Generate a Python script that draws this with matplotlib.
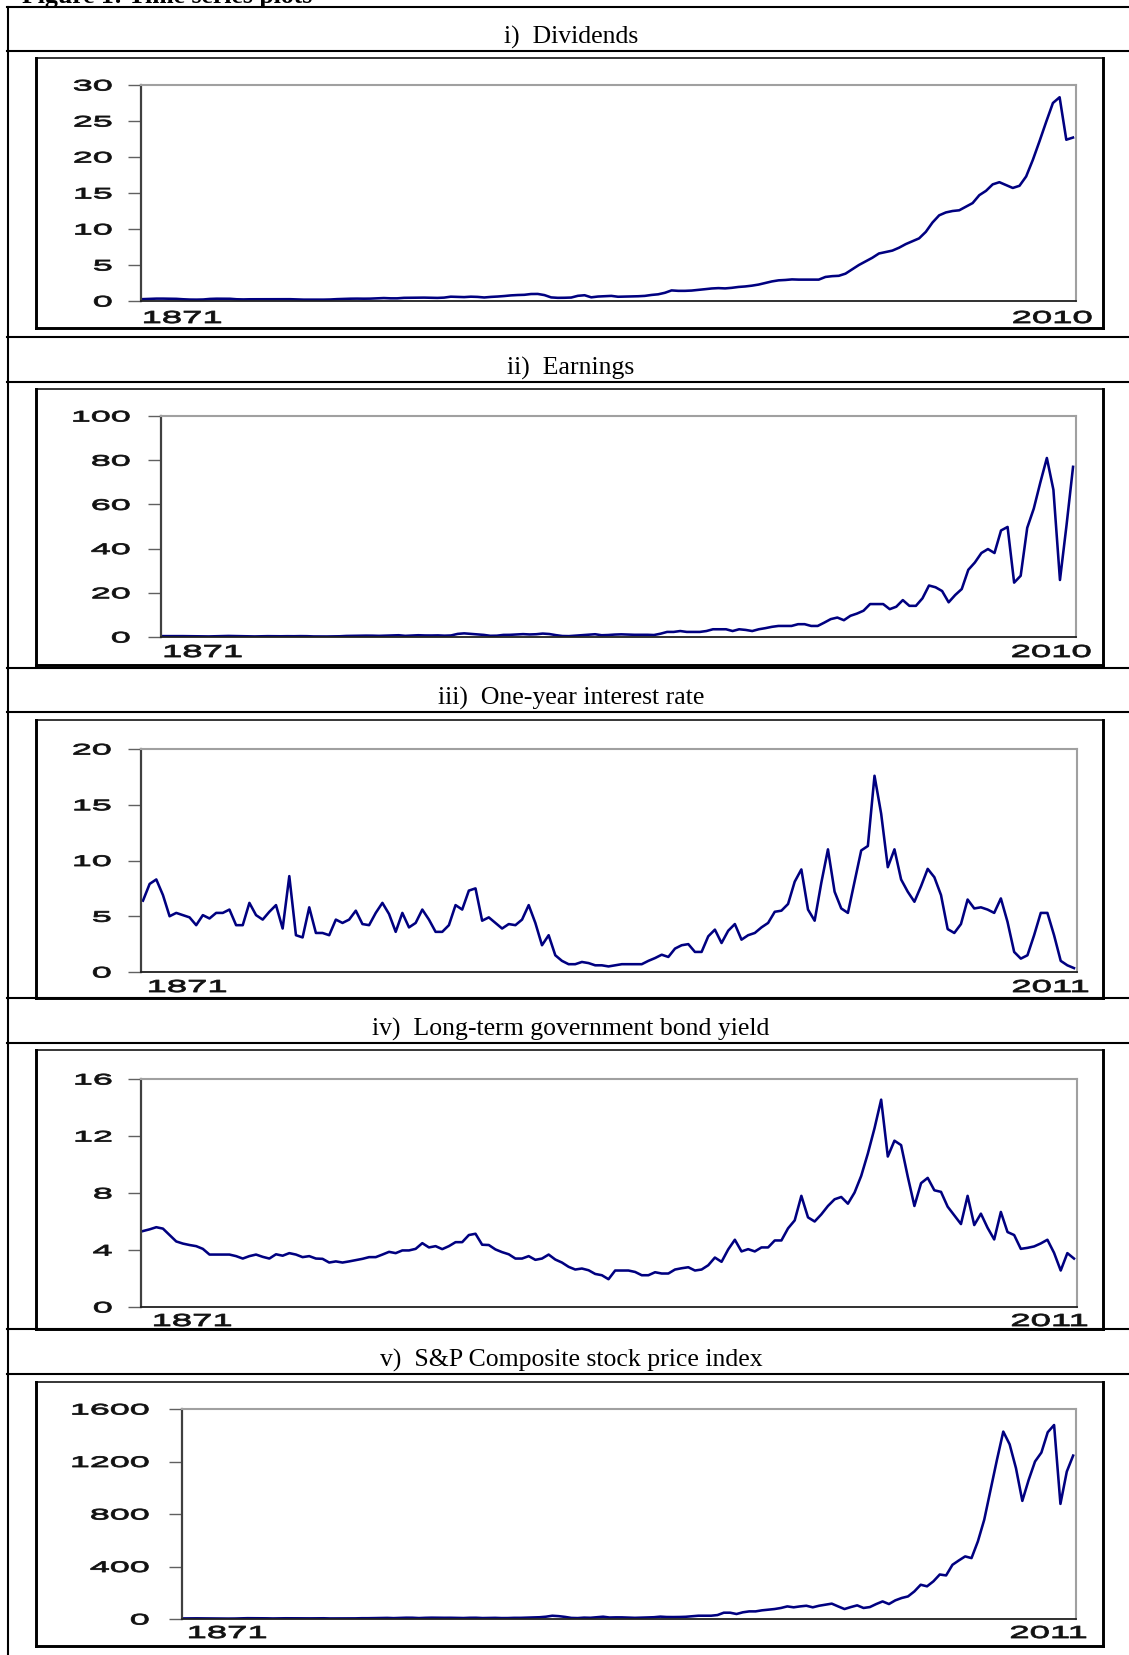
import numpy as np
import matplotlib
matplotlib.use("Agg")
import matplotlib.pyplot as plt
from matplotlib.lines import Line2D
from matplotlib.patheffects import AbstractPathEffect
from matplotlib.transforms import Affine2D

# ---- data (annual) ----
years_de = np.arange(1871, 2011)   # dividends, earnings: 1871-2010
years_rp = np.arange(1871, 2012)   # rates, prices: 1871-2011

dividends = [
    0.26, 0.30, 0.33, 0.33, 0.31, 0.30, 0.24, 0.20, 0.19, 0.21,
    0.29, 0.32, 0.32, 0.31, 0.24, 0.22, 0.24, 0.24, 0.23, 0.24,
    0.23, 0.24, 0.25, 0.22, 0.19, 0.19, 0.18, 0.19, 0.21, 0.26,
    0.29, 0.32, 0.33, 0.32, 0.33, 0.37, 0.41, 0.37, 0.37, 0.44,
    0.45, 0.45, 0.47, 0.45, 0.43, 0.47, 0.60, 0.57, 0.54, 0.60,
    0.57, 0.49, 0.57, 0.62, 0.69, 0.78, 0.83, 0.86, 0.97, 0.98,
    0.82, 0.50, 0.44, 0.45, 0.48, 0.72, 0.80, 0.51, 0.62, 0.67,
    0.71, 0.59, 0.61, 0.64, 0.66, 0.71, 0.84, 0.93, 1.14, 1.47,
    1.41, 1.41, 1.45, 1.54, 1.64, 1.74, 1.79, 1.75, 1.83, 1.95,
    2.02, 2.13, 2.28, 2.50, 2.72, 2.87, 2.92, 3.00,
    2.97, 2.97, 2.97, 2.97, 3.34, 3.45, 3.50, 3.80, 4.40, 5.00,
    5.50, 6.00, 6.60, 6.80, 7.00, 7.40, 7.90, 8.30, 8.70, 9.60,
    10.9, 11.9, 12.3, 12.5, 12.6, 13.1, 13.6, 14.7, 15.3, 16.2,
    16.5, 16.1, 15.7, 16.0, 17.3, 19.6, 22.2, 24.9, 27.5, 28.3,
    22.4, 22.7,
]

earnings = [
    0.40, 0.41, 0.42, 0.40, 0.36, 0.30, 0.25, 0.26, 0.33, 0.45,
    0.48, 0.42, 0.38, 0.34, 0.26, 0.32, 0.38, 0.35, 0.33, 0.37,
    0.35, 0.40, 0.37, 0.26, 0.24, 0.24, 0.28, 0.33, 0.48, 0.54,
    0.58, 0.62, 0.60, 0.52, 0.62, 0.75, 0.80, 0.52, 0.68, 0.80,
    0.70, 0.68, 0.73, 0.60, 0.70, 1.40, 1.65, 1.40, 1.10, 0.95,
    0.55, 0.60, 0.95, 0.98, 1.15, 1.30, 1.15, 1.25, 1.55, 1.35,
    0.85, 0.45, 0.40, 0.60, 0.75, 1.00, 1.25, 0.80,
    0.90, 1.10, 1.20, 1.10, 1.00, 1.00, 1.00, 0.90,
    1.5, 2.3, 2.3, 2.7, 2.3, 2.3, 2.3, 2.7, 3.5, 3.5,
    3.5, 2.7, 3.5, 3.2, 2.7, 3.5, 4.0, 4.6, 5.0, 5.0,
    5.0, 5.8, 5.8, 5.0, 5.0, 6.5, 8.1, 8.8, 7.6, 9.6,
    10.6, 11.9, 14.9, 14.9, 14.9, 12.6, 13.7, 16.7, 14.1, 14.1,
    17.5, 23.3, 22.5, 20.8, 15.7, 19.0, 21.7, 30.4, 33.7, 38.0,
    39.8, 38.0, 48.2, 49.8, 24.6, 27.7, 49.4, 58.1, 69.9, 81.0,
    66.6, 25.8, 50.5, 77.0,
]

one_year_rate = [
    6.4, 7.9, 8.3, 6.9, 5.0, 5.3, 5.1, 4.9, 4.2, 5.1,
    4.8, 5.3, 5.3, 5.6, 4.2, 4.2, 6.2, 5.1, 4.7, 5.4,
    6.0, 3.9, 8.6, 3.3, 3.1, 5.8, 3.5, 3.5, 3.3, 4.7,
    4.4, 4.7, 5.5, 4.3, 4.2, 5.3, 6.2, 5.2, 3.6, 5.3,
    4.0, 4.4, 5.6, 4.7, 3.6, 3.6, 4.2, 6.0, 5.6, 7.3,
    7.5, 4.6, 4.9, 4.4, 3.9, 4.3, 4.2, 4.7, 6.0, 4.4,
    2.4, 3.3, 1.5, 1.0, 0.7, 0.7, 0.9, 0.8, 0.6, 0.6,
    0.5, 0.6, 0.7, 0.7, 0.7, 0.7, 1.0, 1.25, 1.55, 1.35,
    2.1, 2.4, 2.5, 1.8, 1.8, 3.2, 3.8, 2.6, 3.7, 4.3,
    2.9, 3.3, 3.5, 4.0, 4.4, 5.4, 5.5, 6.1, 8.1, 9.2,
    5.6, 4.6, 8.0, 11.0, 7.2, 5.7, 5.3, 8.1, 10.9, 11.3,
    17.6, 14.2, 9.4, 11.0, 8.3, 7.2, 6.3, 7.7, 9.25, 8.5,
    6.9, 3.85, 3.5, 4.3, 6.5, 5.7, 5.8, 5.6, 5.3, 6.6,
    4.5, 1.8, 1.2, 1.5, 3.3, 5.3, 5.3, 3.3, 1.0, 0.6,
    0.35,
]

bond_yield = [
    5.33, 5.45, 5.60, 5.50, 5.05, 4.60, 4.45, 4.35, 4.27, 4.08,
    3.68, 3.68, 3.68, 3.68, 3.57, 3.40, 3.57, 3.68, 3.52, 3.40,
    3.70, 3.60, 3.78, 3.68, 3.50, 3.57, 3.40, 3.38, 3.12, 3.20,
    3.12, 3.20, 3.29, 3.38, 3.50, 3.50, 3.68, 3.87, 3.78, 3.97,
    3.97, 4.08, 4.48, 4.18, 4.27, 4.06, 4.27, 4.55, 4.55, 5.05,
    5.14, 4.37, 4.35, 4.04, 3.85, 3.70, 3.40, 3.40, 3.57, 3.31,
    3.40, 3.68, 3.33, 3.12, 2.82, 2.63, 2.70, 2.58, 2.32, 2.23,
    1.95, 2.56, 2.56, 2.56, 2.46, 2.23, 2.23, 2.44, 2.35, 2.35,
    2.63, 2.72, 2.79, 2.56, 2.63, 2.93, 3.47, 3.17, 4.04, 4.72,
    3.90, 4.06, 3.90, 4.18, 4.18, 4.67, 4.67, 5.52, 6.08, 7.80,
    6.29, 6.00, 6.50, 7.09, 7.56, 7.72, 7.25, 8.03, 9.20, 10.77,
    12.54, 14.55, 10.56, 11.67, 11.36, 9.15, 7.09, 8.69, 9.06, 8.19,
    8.08, 7.04, 6.43, 5.82, 7.80, 5.75, 6.55, 5.56, 4.74, 6.67,
    5.26, 5.05, 4.08, 4.15, 4.25, 4.46, 4.72, 3.80, 2.56, 3.78,
    3.40,
]

sp_price = [
    4.44, 5.07, 5.11, 4.66, 4.54, 4.46, 3.55, 3.25, 3.58, 5.11,
    6.19, 5.92, 5.81, 5.18, 4.24, 5.20, 5.58, 5.31, 5.24, 5.38,
    4.84, 5.51, 5.61, 4.32, 4.25, 4.27, 4.22, 4.88, 6.08, 6.10,
    7.07, 8.12, 8.46, 6.68, 8.43, 9.87, 9.56, 7.09, 9.06, 10.08,
    9.27, 9.12, 9.30, 8.37, 7.48, 9.33, 9.57, 7.21, 7.85, 8.83,
    7.11, 7.30, 8.90, 8.83, 10.58, 12.65, 13.40, 17.53, 24.86, 21.71,
    15.98, 8.30, 7.09, 10.54, 9.26, 13.76, 17.59, 11.31, 12.50, 12.30,
    10.55, 8.93, 10.09, 11.85, 13.49, 18.02, 15.21, 14.83, 15.36, 16.88,
    21.21,
    25, 25, 25, 30, 48, 48, 38, 51, 58,
    58, 66, 71, 76, 84, 96, 89, 96, 101, 89,
    101, 109, 117, 96, 76, 91, 104, 84, 91, 114,
    134, 114, 142, 160, 172, 210, 261, 249, 287, 339,
    332, 413, 446, 477, 464, 591, 756, 984, 1212, 1428,
    1331, 1149, 900, 1060, 1200, 1268, 1423, 1478, 877, 1123,
    1245,
]

titles = ["i)  Dividends", "ii)  Earnings", "iii)  One-year interest rate",
          "iv)  Long-term government bond yield",
          "v)  S&P Composite stock price index"]
y_ticks = [[0, 5, 10, 15, 20, 25, 30],
           [0, 20, 40, 60, 80, 100],
           [0, 5, 10, 15, 20],
           [0, 4, 8, 12, 16],
           [0, 400, 800, 1200, 1600]]
series = [(years_de, dividends), (years_de, earnings), (years_rp, one_year_rate),
          (years_rp, bond_yield), (years_rp, sp_price)]

# ---- layout, in pixels of the 1129x1655 page (y measured from top) ----
W, H = 1129, 1655
axes_px = [(141, 85, 1076, 301), (161, 416, 1076, 637), (141, 749, 1077, 972),
           (141, 1079, 1077, 1307), (182, 1409, 1076, 1619)]
box_px = [(36, 58, 1103, 328), (36, 389, 1103, 665), (36, 720, 1103, 998),
          (36, 1050, 1103, 1329), (36, 1382, 1103, 1646)]
row_px = [(7, 51), (337, 382), (668, 712), (998, 1043), (1329, 1374)]
label_pad = [16, 18, 17, 16, 20]
first_dx = [2, 2.5, 7, 12, 6]
last_dx = [16, 15, 12, 11, 11]
year_dy = [10, 8, 8, 7, 7]

LINE = '#000080'
SANS = 'Liberation Sans'
SERIF = 'Liberation Serif'


class Wide(AbstractPathEffect):
    """Stretch glyphs horizontally (the original uses a very wide font)."""

    def __init__(self, sx=2.3, anchor='right', stroke=0.5):
        super().__init__()
        self.sx = sx
        self.anchor = anchor
        self.stroke = stroke

    def draw_path(self, renderer, gc, tpath, affine, rgbFace=None):
        bb = tpath.get_extents(affine)
        if self.anchor == 'right':
            x0 = bb.x1
        elif self.anchor == 'left':
            x0 = bb.x0
        else:
            x0 = 0.5 * (bb.x0 + bb.x1)
        t = affine + Affine2D().translate(-x0, 0).scale(self.sx, 1).translate(x0, 0)
        gc0 = renderer.new_gc()
        gc0.copy_properties(gc)
        gc0.set_linewidth(self.stroke)
        renderer.draw_path(gc0, tpath, t, rgbFace)
        gc0.restore()


def fx(x):
    return x / W


def fy(y):
    return 1 - y / H


fig = plt.figure(figsize=(W / 100, H / 100), dpi=100)


def seg(x0, y0, x1, y1, lw, color='black'):
    fig.add_artist(Line2D([fx(x0), fx(x1)], [fy(y0), fy(y1)], lw=lw,
                          color=color, solid_capstyle='projecting'))


# page title (cut off at the top edge in the original)
fig.text(fx(22), fy(3), "Figure 1: Time series plots", fontsize=18.5,
         weight='bold', family=SERIF, va='baseline', ha='left')

# table frame
seg(7.5, 7, 7.5, H + 5, 1.5)
for top, bot in row_px:
    seg(7, top, W + 5, top, 1.5)
    seg(7, bot, W + 5, bot, 1.5)

for i in range(5):
    top, bot = row_px[i]
    fig.text(fx(571), fy(bot - 7.5), titles[i], fontsize=18.5, family=SERIF,
             ha='center', va='baseline')

    # boxed frame around each chart
    bl, bt, br, bb = box_px[i]
    seg(bl, bt, br, bt, 1.1)
    seg(bl, bt, bl, bb, 2.1)
    seg(br, bt, br, bb, 2.1)
    seg(bl, bb, br, bb, 2.1)

    l, t, r, b = axes_px[i]
    ax = fig.add_axes([fx(l), fy(b), (r - l) / W, (b - t) / H])
    yrs, vals = series[i]
    ax.plot(yrs, vals, color=LINE, lw=1.85)
    ax.set_xlim(yrs[0] - 0.3, yrs[-1] + 0.45)
    ax.set_ylim(0, y_ticks[i][-1])
    ax.set_xticks([])
    ax.set_yticks(y_ticks[i])
    ax.set_yticklabels([str(v) for v in y_ticks[i]])
    ax.tick_params(axis='y', direction='out', length=9.4, width=1.0,
                   color='#606060', pad=label_pad[i] / 1.389, labelsize=11)
    for lab in ax.get_yticklabels():
        lab.set_family(SANS)
        lab.set_color('#111111')
        lab.set_path_effects([Wide(2.35, 'right', 0.6)])

    ax.spines['left'].set_color('#404040')
    ax.spines['left'].set_linewidth(1.6)
    ax.spines['bottom'].set_color('#202020')
    ax.spines['bottom'].set_linewidth(1.3)
    for s in ('top', 'right'):
        ax.spines[s].set_color('#a0a0a0')
        ax.spines[s].set_linewidth(1.5)

    # first and last year under the axis
    ax.annotate(str(yrs[0]), xy=(0, 0), xycoords='axes fraction',
                xytext=(first_dx[i], -year_dy[i]), textcoords='offset pixels',
                ha='left', va='top', fontsize=12.5, family=SANS, color='#111111',
                path_effects=[Wide(2.1, 'left', 0.6)])
    ax.annotate(str(yrs[-1]), xy=(1, 0), xycoords='axes fraction',
                xytext=(last_dx[i], -year_dy[i]), textcoords='offset pixels',
                ha='right', va='top', fontsize=12.5, family=SANS, color='#111111',
                path_effects=[Wide(2.1, 'right', 0.6)])

fig.savefig("out.png", dpi=100)
